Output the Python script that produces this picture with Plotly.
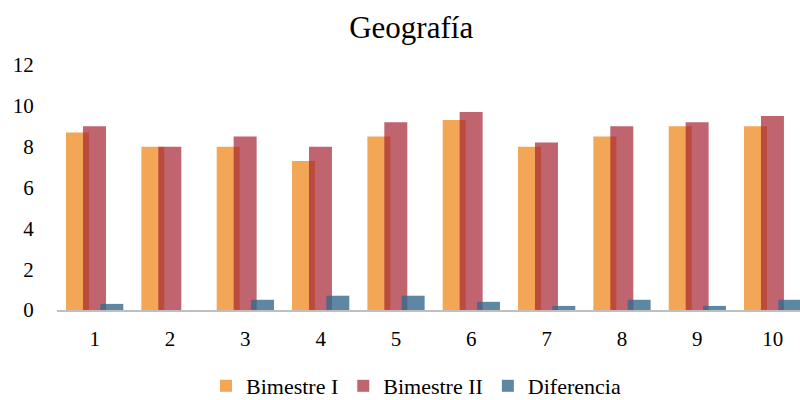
import plotly.graph_objects as go

# Students 1..10, grades per two-month period and their difference
alumnos = [1, 2, 3, 4, 5, 6, 7, 8, 9, 10]
bimestre_1 = [8.7, 8.0, 8.0, 7.3, 8.5, 9.3, 8.0, 8.5, 9.0, 9.0]
bimestre_2 = [9.0, 8.0, 8.5, 8.0, 9.2, 9.7, 8.2, 9.0, 9.2, 9.5]
diferencia = [0.3, 0.0, 0.5, 0.7, 0.7, 0.4, 0.2, 0.5, 0.2, 0.5]
y_ticks = [0, 2, 4, 6, 8, 10, 12]

FONT = "Liberation Serif"
BAR_W = 0.305

fig = go.Figure()
fig.add_trace(go.Bar(
    x=alumnos, y=bimestre_1, name="Bimestre I",
    marker=dict(color="rgb(242,166,86)", line=dict(width=0)),
    offset=-0.38, width=BAR_W,
))
fig.add_trace(go.Bar(
    x=alumnos, y=bimestre_2, name="Bimestre II",
    marker=dict(color="rgba(165,36,51,0.7)", line=dict(width=0)),
    offset=-0.155, width=BAR_W,
))
fig.add_trace(go.Bar(
    x=alumnos, y=diferencia, name="Diferencia",
    marker=dict(color="rgba(52,105,140,0.8)", line=dict(width=0)),
    offset=0.075, width=BAR_W,
))

fig.update_layout(
    width=800, height=400,
    barmode="overlay",
    margin=dict(l=57, r=0, t=65, b=90),
    paper_bgcolor="white", plot_bgcolor="white",
    font=dict(family=FONT, color="black", size=21),
    title=dict(
        text="Geografía", x=0.514, xanchor="center",
        y=1 - 27 / 400, yanchor="middle", yref="container",
        font=dict(family=FONT, size=31, color="black"),
    ),
    xaxis=dict(
        range=[0.5, 10.363], tickvals=alumnos, ticktext=[str(a) for a in alumnos],
        showgrid=False, zeroline=False,
        showline=True, linecolor="#BFBFBF", linewidth=2,
        ticks="outside", ticklen=9, tickcolor="rgba(0,0,0,0)",
        tickfont=dict(family=FONT, size=21),
    ),
    yaxis=dict(
        range=[0, 12], tickvals=y_ticks,
        showgrid=False, zeroline=False, showline=False,
        ticks="outside", ticklen=18, tickcolor="rgba(0,0,0,0)",
        tickfont=dict(family=FONT, size=21),
    ),
    legend=dict(
        orientation="h", xref="container", yref="container",
        x=0.52, xanchor="center", y=1 - 386 / 400, yanchor="middle",
        font=dict(family=FONT, size=22), itemwidth=30,
    ),
)

fig.write_html("out.html")
